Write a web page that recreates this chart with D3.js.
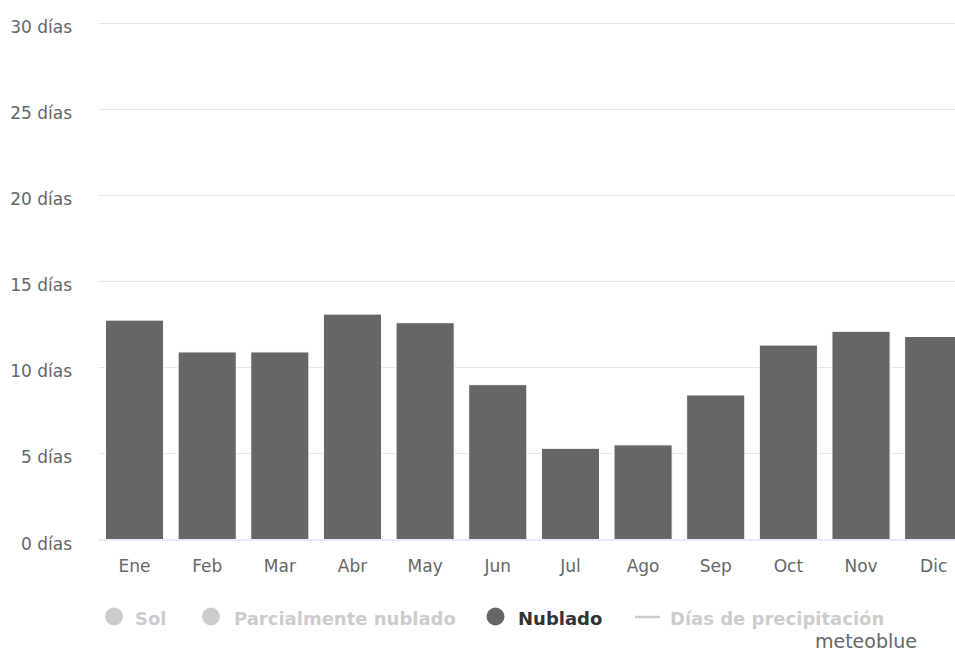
<!DOCTYPE html>
<html>
<head>
<meta charset="utf-8">
<script src="https://cdn.jsdelivr.net/npm/d3@7"></script>
<style>
  html, body { margin: 0; padding: 0; background: #fff; overflow: hidden; }
  svg { display: block; font-family: "DejaVu Sans", sans-serif; }
</style>
</head>
<body>
<svg id="chart" width="955" height="655"></svg>
<script>
const months = ["Ene","Feb","Mar","Abr","May","Jun","Jul","Ago","Sep","Oct","Nov","Dic"];
const nublado = [12.75, 10.9, 10.9, 13.1, 12.6, 9.0, 5.3, 5.5, 8.4, 11.3, 12.1, 11.8];
const yTicks = [0, 5, 10, 15, 20, 25, 30];
const legendItems = [
  {name: "Sol", type: "circle", active: false},
  {name: "Parcialmente nublado", type: "circle", active: false},
  {name: "Nublado", type: "circle", active: true},
  {name: "Días de precipitación", type: "line", active: false}
];

const svg = d3.select("#chart");
const x = d3.scaleBand().domain(months).range([98.2, 970]).paddingInner(0.2).paddingOuter(0.1);
const y = d3.scaleLinear().domain([0, 30]).range([539.5, 23.3]);

// gridlines
svg.append("g").selectAll("line").data(yTicks.filter(d => d !== 0)).join("line")
  .attr("x1", 98.2).attr("x2", 970)
  .attr("y1", d => Math.round(y(d)) + 0.5).attr("y2", d => Math.round(y(d)) + 0.5)
  .attr("stroke", "#e6e6e6").attr("stroke-width", 1);

// y labels
const yAxis = d3.axisLeft(y).tickValues(yTicks).tickSize(0).tickPadding(0)
  .tickFormat(d => d + " días");
const gy = svg.append("g").attr("transform", "translate(72,0)").call(yAxis);
gy.select(".domain").remove();
gy.selectAll("text").attr("fill", "#666").style("font-size", "17px")
  .style("font-family", "'DejaVu Sans', sans-serif").attr("dy", 0).attr("y", 9.5);

// bars
svg.append("g").selectAll("rect").data(nublado).join("rect")
  .attr("x", (d, i) => x(months[i]))
  .attr("width", x.bandwidth())
  .attr("y", d => y(d))
  .attr("height", d => y(0) - y(d))
  .attr("fill", "#666666")
  .attr("stroke", "#ffffff").attr("stroke-width", 1);

// x axis
const xAxis = d3.axisBottom(x).tickSize(0).tickPadding(0);
const gx = svg.append("g").attr("transform", "translate(0," + 539.5 + ")").call(xAxis);
gx.select(".domain").attr("stroke", "#ccd6eb").attr("d", "M98.2,0.5H970");
gx.selectAll("text").attr("fill", "#666").style("font-size", "17px")
  .style("font-family", "'DejaVu Sans', sans-serif").attr("y", 32.5).attr("dy", 0);

// legend
const symPos = [114, 211, 495.5, 647.5];
const textPos = [135, 234, 518, 670];
const lg = svg.append("g");
legendItems.forEach((it, i) => {
  const col = it.active ? "#666666" : "#cccccc";
  if (it.type === "circle") {
    lg.append("circle").attr("cx", symPos[i]).attr("cy", 616.5).attr("r", 9).attr("fill", col);
  } else {
    lg.append("line").attr("x1", symPos[i] - 12.5).attr("x2", symPos[i] + 12.5)
      .attr("y1", 617).attr("y2", 617).attr("stroke", col).attr("stroke-width", 2.5);
  }
  lg.append("text").attr("x", textPos[i]).attr("y", 625)
    .attr("fill", it.active ? "#333333" : "#cccccc")
    .style("font-size", "18px").style("font-weight", "bold")
    .text(it.name);
});

svg.append("text").attr("x", 917).attr("y", 648).attr("text-anchor", "end")
  .attr("fill", "#666").style("font-size", "19px").text("meteoblue");
</script>
</body>
</html>
